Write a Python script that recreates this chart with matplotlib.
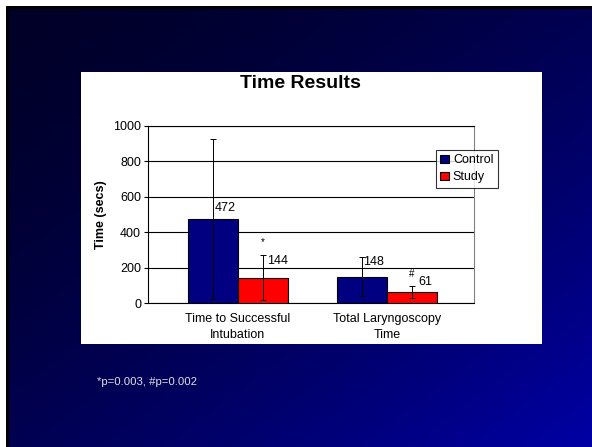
import numpy as np
import matplotlib
matplotlib.use("Agg")
import matplotlib.pyplot as plt
from matplotlib.patches import Rectangle

plt.rcParams['font.family'] = ['Liberation Sans', 'DejaVu Sans']

# data
categories = ["Time to Successful\nIntubation", "Total Laryngoscopy\nTime"]
series = ["Control", "Study"]
control = [472, 148]
study = [144, 61]
control_err = [452, 110]
study_err = [125, 33]
study_marks = ["*", "#"]

W, H = 592, 447
fig = plt.figure(figsize=(W / 100, H / 100), dpi=100)

# slide background: diagonal gradient dark navy -> blue
bg = fig.add_axes([0, 0, 1, 1])
bg.set_axis_off()
yy, xx = np.mgrid[0:1:200j, 0:1:200j]
t = np.clip((xx + yy) / 2.0, 0, 1) ** 1.6
c0 = np.array([0, 0, 40]) / 255
c1 = np.array([0, 0, 165]) / 255
img = c0 + (c1 - c0) * t[..., None]
bg.imshow(img, extent=[0, W, H, 0], aspect='auto')
bg.set_xlim(0, W)
bg.set_ylim(H, 0)
# white edge + black line at top/left
bg.add_patch(Rectangle((0, 0), W, 6, color='white', lw=0))
bg.add_patch(Rectangle((0, 0), 6, H, color='white', lw=0))
bg.add_patch(Rectangle((6, 6), W, 3, color='black', lw=0))
bg.add_patch(Rectangle((6, 6), 3, H, color='black', lw=0))
# white chart panel
bg.add_patch(Rectangle((81, 72), 461, 272, color='white', lw=0))
bg.text(300, 83, "Time Results", ha='center', va='center', fontsize=14,
        fontweight='bold', color='black')
bg.text(97, 382, "*p=0.003, #p=0.002", ha='left', va='center', fontsize=8.2,
        color='#e0e0e0')

# chart axes
left, right, top, bottom = 148, 474, 126, 303
ax = fig.add_axes([left / W, 1 - bottom / H, (right - left) / W, (bottom - top) / H])
x = np.arange(len(categories))
bw = 0.336
ax.bar(x - bw / 2, control, bw, color='#000080', edgecolor='black', lw=0.8,
       label=series[0], zorder=3)
ax.bar(x + bw / 2, study, bw, color='#ff0000', edgecolor='black', lw=0.8,
       label=series[1], zorder=3)
ax.errorbar(x - bw / 2, control, yerr=control_err, fmt='none', ecolor='black',
            elinewidth=0.7, capsize=2, capthick=0.7, zorder=4)
ax.errorbar(x + bw / 2, study, yerr=study_err, fmt='none', ecolor='black',
            elinewidth=0.7, capsize=2, capthick=0.7, zorder=4)

fs = 9
ctrl_off = [(1.5, 8.3), (0.7, 10.7)]
study_off = [(3, 12), (4.5, 7.5)]
for xi, v, off in zip(x, control, ctrl_off):
    ax.annotate(str(v), (xi - bw / 2, v), xytext=off, textcoords='offset points',
                fontsize=fs, ha='left', va='center')
for xi, v, m, e, off in zip(x, study, study_marks, study_err, study_off):
    ax.annotate(str(v), (xi + bw / 2, v), xytext=off,
                textcoords='offset points', fontsize=fs, ha='left', va='center')
    ax.annotate(m, (xi + bw / 2, v + e), xytext=(0, 9.5 if m == "*" else 9),
                textcoords='offset points', fontsize=7, ha='center', va='center')

ax.set_xlim(-0.604, 1.584)
ax.set_ylim(0, 1000)
ax.set_yticks(range(0, 1001, 200))
ax.tick_params(axis='y', labelsize=fs, length=3, width=0.8, pad=2)
ax.tick_params(axis='x', length=0, labelsize=fs, pad=7)
ax.set_xticks(x)
ax.set_xticklabels(categories, linespacing=1.45)
ax.yaxis.grid(True, color='black', lw=0.8, zorder=0)
ax.set_axisbelow(True)
ax.spines['left'].set_color('black')
ax.spines['bottom'].set_color('black')
ax.spines['top'].set_color('black')
ax.spines['right'].set_color('#808080')
for s in ax.spines.values():
    s.set_linewidth(0.8)
ax.set_ylabel("Time (secs)", fontsize=fs, fontweight='bold', labelpad=4)

leg = ax.legend(loc='upper left',
                bbox_to_anchor=((436 - left) / (right - left), 1 - (150 - top) / (bottom - top)),
                fontsize=fs, frameon=True, fancybox=False, edgecolor='black',
                handlelength=0.7, handleheight=0.7, handletextpad=0.3,
                borderpad=0.35, labelspacing=0.4, borderaxespad=0)
leg.get_frame().set_linewidth(0.8)
leg.set_zorder(5)

fig.savefig("out.png", dpi=100)
